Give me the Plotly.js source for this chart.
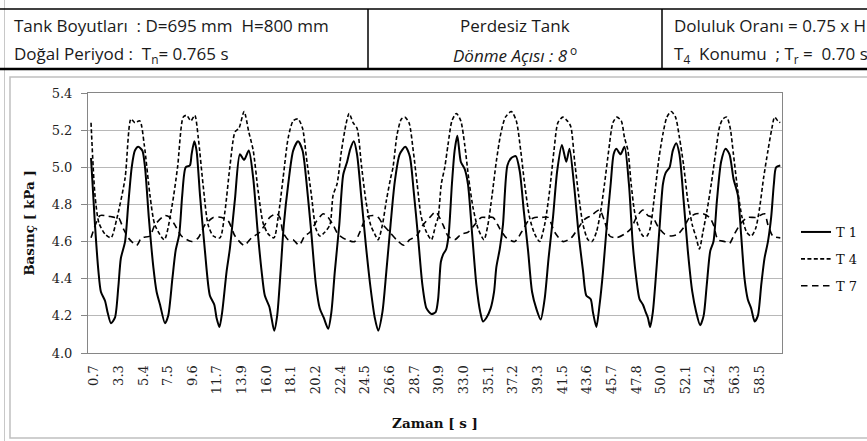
<!DOCTYPE html>
<html>
<head>
<meta charset="utf-8">
<script src="https://cdn.plot.ly/plotly-3.0.1.min.js"></script>
<style>
html,body{margin:0;padding:0;background:#fff;}
#chart{width:867px;height:441px;}
</style>
</head>
<body>
<div id="chart"></div>
<script>
// ---- Data (x = position along the category axis, in units of one tick-label interval) ----
const tickLabels = ['0.7','3.3','5.4','7.5','9.6','11.7','13.9','16.0','18.1','20.2','22.4','24.5','26.6','28.7',
  '30.9','33.0','35.1','37.2','39.3','41.5','43.6','45.7','47.8','50.0','52.1','54.2','56.3','58.5'];

const seriesNames = ['T 1', 'T 4', 'T 7'];

const t1X = [-0.12,0.04,0.18,0.28,0.45,0.55,0.69,0.85,0.99,1.09,1.26,1.39,1.53,1.66,1.80,1.96,2.07,2.23,2.41,2.54,2.68,2.88,3.01,3.18,3.31,3.46,3.58,3.72,3.89,3.96,4.07,4.16,4.30,4.50,4.70,4.88,4.97,5.09,5.20,5.38,5.51,5.72,5.92,6.09,6.28,6.46,6.63,6.80,6.93,
  7.11,7.20,7.31,7.43,7.57,7.70,7.88,8.08,8.28,8.46,8.62,8.82,9.00,9.16,9.32,9.50,9.63,9.77,9.95,10.11,10.27,10.40,10.54,10.67,10.85,11.03,11.22,11.39,11.53,11.70,11.86,12.03,12.20,12.40,12.63,12.81,12.97,13.15,13.32,13.49,13.69,13.86,
  13.96,14.07,14.16,14.29,14.39,14.52,14.63,14.74,14.88,15.04,15.17,15.34,15.51,15.67,15.78,15.92,16.09,16.23,16.32,16.46,16.59,16.77,16.93,17.11,17.27,17.44,17.61,17.77,17.94,18.12,18.28,18.44,18.62,18.79,18.98,19.16,19.29,19.47,19.66,19.84,19.97,20.15,20.24,20.38,20.51,20.65,20.78,20.96,
  21.08,21.19,21.36,21.52,21.70,21.86,22.00,22.13,22.27,22.38,22.47,22.56,22.67,22.81,22.94,23.08,23.19,23.35,23.48,23.62,23.75,23.92,24.09,24.27,24.43,24.59,24.73,24.86,25.00,25.13,25.27,25.44,25.62,25.78,25.94,26.12,26.25,26.39,26.52,26.66,26.80,26.93,27.07,27.20,27.34,27.47,27.58,27.67,27.84];
const t1Y = [5.05,4.69,4.44,4.33,4.28,4.22,4.16,4.19,4.36,4.51,4.60,4.80,5.00,5.09,5.11,5.09,5.00,4.72,4.46,4.33,4.26,4.16,4.20,4.40,4.55,4.64,4.85,5.00,5.01,5.07,5.14,5.09,4.85,4.55,4.31,4.26,4.19,4.14,4.22,4.44,4.56,4.83,5.07,5.04,5.09,4.94,4.67,4.44,4.31,
  4.25,4.19,4.12,4.20,4.44,4.69,4.91,5.09,5.14,5.09,4.92,4.64,4.37,4.24,4.19,4.13,4.22,4.44,4.69,4.96,5.03,5.10,5.14,5.07,4.83,4.58,4.35,4.19,4.12,4.22,4.44,4.69,4.92,5.07,5.11,5.06,4.87,4.62,4.37,4.24,4.21,4.22,
  4.29,4.49,4.53,4.56,4.64,4.91,5.09,5.17,5.03,4.99,4.91,4.64,4.37,4.22,4.17,4.19,4.24,4.33,4.46,4.56,4.69,5.01,5.05,5.06,4.98,4.76,4.55,4.33,4.24,4.18,4.29,4.51,4.73,4.98,5.12,5.03,5.10,4.91,4.64,4.44,4.31,4.29,4.22,4.14,4.26,4.44,4.65,4.91,
  5.07,5.10,5.07,5.11,4.91,4.58,4.40,4.29,4.26,4.22,4.19,4.14,4.22,4.44,4.67,4.91,4.97,5.00,5.09,5.13,5.07,4.82,4.55,4.33,4.22,4.15,4.20,4.37,4.55,4.60,4.82,5.03,5.10,5.07,4.94,4.85,4.64,4.40,4.29,4.24,4.17,4.20,4.37,4.51,4.60,4.73,4.91,5.00,5.01];

const t4X = [-0.12,0.04,0.20,0.45,0.69,0.92,1.26,1.50,1.66,1.86,2.04,2.27,2.47,2.85,3.15,3.39,3.62,3.76,3.93,4.09,4.23,4.43,4.63,4.84,5.11,5.31,5.51,5.72,5.88,6.09,6.28,6.46,6.66,6.86,
  7.07,7.30,7.47,7.67,7.88,8.08,8.28,8.46,8.62,8.82,9.00,9.16,9.36,9.57,9.70,9.86,10.04,10.22,10.35,10.51,10.67,10.85,11.03,11.22,11.39,11.53,11.70,11.86,12.03,12.13,12.30,12.47,12.61,12.78,12.95,13.11,13.28,13.49,13.69,13.86,
  13.96,14.09,14.23,14.36,14.52,14.70,14.88,15.04,15.20,15.38,15.58,15.82,15.98,16.15,16.32,16.50,16.69,16.93,17.13,17.31,17.47,17.67,17.88,18.08,18.28,18.48,18.66,18.82,19.02,19.20,19.34,19.50,19.66,19.84,20.04,20.20,20.38,20.55,20.71,20.88,
  21.05,21.21,21.39,21.52,21.66,21.79,21.93,22.11,22.27,22.43,22.56,22.74,22.92,23.08,23.24,23.42,23.59,23.75,23.92,24.09,24.27,24.43,24.56,24.70,24.86,25.04,25.21,25.38,25.51,25.67,25.81,25.94,26.12,26.29,26.48,26.66,26.84,27.00,27.16,27.34,27.50,27.61,27.74,27.84];
const t4Y = [5.24,4.85,4.70,4.64,4.62,4.72,4.94,5.26,5.24,5.25,5.12,4.85,4.69,4.61,4.78,5.00,5.27,5.28,5.25,5.28,5.16,4.90,4.69,4.63,4.62,4.76,5.00,5.19,5.21,5.30,5.19,5.09,4.87,4.70,
  4.64,4.62,4.73,4.94,5.16,5.25,5.26,5.21,5.05,4.85,4.67,4.63,4.65,4.69,4.85,4.91,5.09,5.23,5.29,5.24,5.21,5.01,4.82,4.69,4.64,4.61,4.69,4.82,4.94,5.00,5.18,5.26,5.27,5.24,5.09,4.91,4.73,4.65,4.61,4.69,
  4.73,4.91,5.00,5.12,5.25,5.29,5.25,5.12,4.94,4.78,4.67,4.61,4.69,4.85,5.03,5.18,5.27,5.30,5.25,5.09,4.91,4.73,4.64,4.60,4.69,4.87,5.09,5.24,5.27,5.25,5.22,5.03,4.85,4.69,4.61,4.60,4.65,4.76,4.91,5.09,
  5.24,5.27,5.25,5.16,5.09,4.91,4.76,4.67,4.63,4.63,4.67,4.85,5.05,5.18,5.27,5.30,5.27,5.16,5.01,4.82,4.69,4.62,4.56,4.65,4.76,4.91,5.07,5.22,5.26,5.27,5.21,5.07,4.87,4.73,4.65,4.63,4.67,4.78,4.94,5.09,5.21,5.27,5.25,5.24];

const t7X = [-0.12,0.24,0.45,0.85,0.99,1.19,1.39,1.73,1.93,2.27,2.47,2.88,3.08,3.28,3.55,3.96,4.23,4.50,4.84,5.18,5.45,5.72,6.09,6.39,6.73,6.93,
  7.13,7.40,7.54,7.67,7.88,8.08,8.32,8.55,8.76,9.03,9.30,9.50,9.70,9.90,10.24,10.58,10.78,11.05,11.32,11.53,11.73,12.00,12.27,12.57,12.81,13.08,13.35,13.62,13.86,
  14.16,14.36,14.63,14.90,15.17,15.44,15.71,15.92,16.19,16.46,16.73,17.07,17.34,17.61,17.88,18.15,18.42,18.69,19.02,19.36,19.63,19.90,20.17,20.51,20.71,20.92,
  21.19,21.52,21.79,22.00,22.27,22.47,22.67,22.88,23.15,23.42,23.69,23.89,24.16,24.43,24.70,24.97,25.13,25.31,25.58,25.78,25.98,26.25,26.52,26.86,27.20,27.34,27.54,27.84];
const t7Y = [4.62,4.74,4.74,4.73,4.73,4.67,4.62,4.58,4.62,4.63,4.69,4.74,4.73,4.69,4.63,4.60,4.62,4.69,4.73,4.73,4.71,4.63,4.58,4.62,4.65,4.69,
  4.73,4.75,4.73,4.65,4.61,4.61,4.58,4.63,4.65,4.71,4.75,4.73,4.69,4.64,4.61,4.60,4.65,4.73,4.74,4.73,4.69,4.65,4.61,4.58,4.61,4.63,4.69,4.73,4.76,
  4.69,4.63,4.61,4.64,4.65,4.69,4.73,4.73,4.73,4.67,4.62,4.60,4.65,4.71,4.73,4.73,4.73,4.65,4.60,4.62,4.67,4.72,4.74,4.77,4.71,4.63,
  4.62,4.64,4.67,4.73,4.77,4.74,4.73,4.68,4.64,4.63,4.64,4.67,4.73,4.75,4.75,4.73,4.69,4.61,4.60,4.59,4.64,4.70,4.73,4.73,4.75,4.69,4.63,4.62];

const yTickVals = [4.0,4.2,4.4,4.6,4.8,5.0,5.2,5.4];

// ---- Layout helpers (pixel -> paper) ----
const W = 867, H = 441;
const M = {l: 88, r: 85, t: 93, b: 88};
const PW = W - M.l - M.r, PH = H - M.t - M.b;
const px = x => (x - M.l) / PW;
const py = y => (H - M.b - y) / PH;

const serif = 'DejaVu Serif';
const sans = 'Open Sans';
const NB = '\u00a0';

const traces = [
  {x: t1X, y: t1Y, name: seriesNames[0], legendgroup: 'a', mode: 'lines',
   line: {color: '#000', width: 2, shape: 'spline', smoothing: 0.7}},
  {x: t4X, y: t4Y, name: seriesNames[1], legendgroup: 'b', mode: 'lines',
   line: {color: '#000', width: 1.6, dash: '4px,2.4px', shape: 'spline', smoothing: 0.7}},
  {x: t7X, y: t7Y, name: seriesNames[2], legendgroup: 'c', mode: 'lines',
   line: {color: '#000', width: 1.6, dash: '6.5px,4.5px', shape: 'spline', smoothing: 0.7}}
];

function hdr(xPix, yPix, text, anchor) {
  return {xref: 'paper', yref: 'paper', x: px(xPix), y: py(yPix), xanchor: anchor, yanchor: 'middle',
    text: text, showarrow: false, font: {family: sans, size: 17, color: '#1a1a1a'}};
}

function hline(x0, x1, y, color, w) {
  return {type: 'line', xref: 'paper', yref: 'paper', x0: px(x0), x1: px(x1), y0: py(y), y1: py(y),
    line: {color: color, width: w}};
}
function vline(x, y0, y1, color, w) {
  return {type: 'line', xref: 'paper', yref: 'paper', x0: px(x), x1: px(x), y0: py(y0), y1: py(y1),
    line: {color: color, width: w}};
}

const layout = {
  width: W, height: H,
  margin: {l: M.l, r: M.r, t: M.t, b: M.b, autoexpand: false},
  paper_bgcolor: '#fff', plot_bgcolor: '#fff',
  showlegend: true,
  legend: {x: px(796), y: py(217), xanchor: 'left', yanchor: 'top',
    font: {family: serif, size: 13, color: '#111'}, traceorder: 'grouped', tracegroupgap: 7,
    bgcolor: 'rgba(0,0,0,0)', itemwidth: 30},
  xaxis: {
    range: [-0.243, 27.91], tickmode: 'array',
    tickvals: tickLabels.map((_, i) => i), ticktext: tickLabels,
    tickangle: -90, ticks: '', showgrid: false, zeroline: false,
    showline: true, mirror: true, linecolor: '#868686', linewidth: 1,
    tickfont: {family: serif, size: 13, color: '#222'}, ticklabelstandoff: 6,
    title: {text: '<b>Zaman [ s ]</b>', standoff: 25, font: {family: serif, size: 13.5, color: '#111'}}
  },
  yaxis: {
    range: [4.0, 5.4], tickmode: 'array', tickvals: yTickVals, tickformat: '.1f',
    ticks: 'outside', ticklen: 6, tickcolor: '#868686',
    showgrid: true, gridcolor: '#b8b8b8', gridwidth: 1, zeroline: false,
    showline: true, mirror: true, linecolor: '#868686', linewidth: 1,
    tickfont: {family: serif, size: 13, color: '#222'}, ticklabelstandoff: 6,
    title: {text: '<b>Basınç [ kPa ]</b>', standoff: 13, font: {family: serif, size: 13.5, color: '#111'}}
  },
  shapes: [
    vline(4.5, 0, 441, '#c8c8c8', 1),
    hline(0, 880, 9, '#000', 1.5),
    hline(0, 880, 69, '#000', 2.5),
    vline(368, 9, 69, '#000', 1.5),
    vline(662, 9, 69, '#000', 1.5),
    {type: 'rect', xref: 'paper', yref: 'paper', x0: px(10), x1: px(890), y0: py(438), y1: py(77),
     line: {color: '#c0c0c0', width: 1.5}, fillcolor: 'rgba(0,0,0,0)'}
  ],
  annotations: [
    hdr(12, 25, 'Tank Boyutları' + NB + NB + ': D=695 mm' + NB + NB + 'H=800 mm', 'left'),
    hdr(12, 54, 'Doğal Periyod :' + NB + NB + 'T<sub>n</sub>= 0.765 s', 'left'),
    hdr(515, 25, 'Perdesiz Tank', 'center'),
    hdr(515, 54, '<i>Dönme Açısı : 8</i><sup> o</sup>', 'center'),
    hdr(672, 25, 'Doluluk Oranı = 0.75 x H', 'left'),
    hdr(672, 54, 'T<sub>4</sub>' + NB + NB + 'Konumu' + NB + NB + '; T<sub>r</sub> =' + NB + NB + '0.70 s', 'left')
  ]
};

Plotly.newPlot('chart', traces, layout, {staticPlot: true, displayModeBar: false});
</script>
</body>
</html>
